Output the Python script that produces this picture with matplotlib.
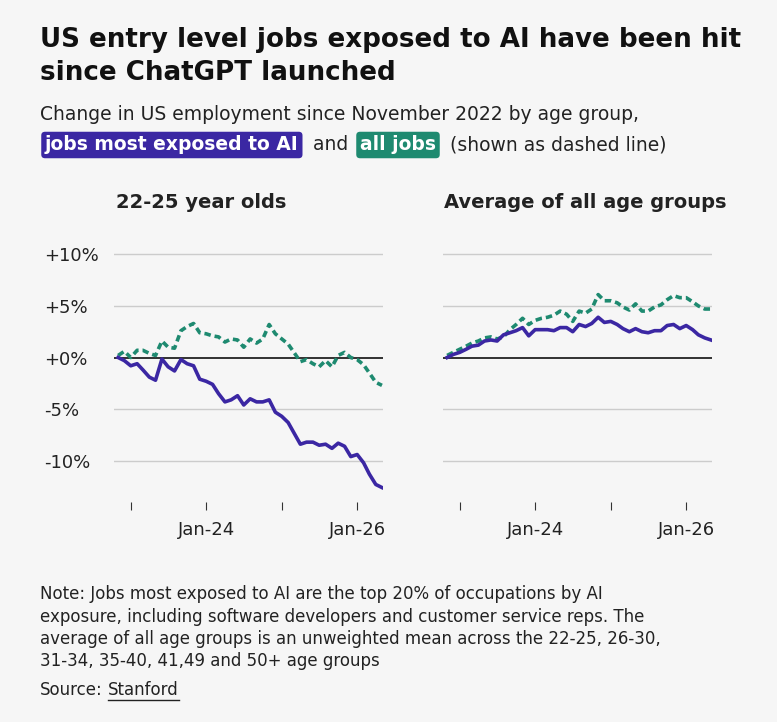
import matplotlib
matplotlib.use("Agg")
import matplotlib.pyplot as plt
import pandas as pd
import numpy as np

dates = pd.date_range("2022-11-01", periods=43, freq="MS")
young_ai = [0,-0.3,-0.8,-0.6,-1.2,-1.9,-2.2,-0.15,-0.9,-1.3,-0.2,-0.6,-0.8,-2.1,-2.3,-2.6,-3.5,-4.3,-4.1,-3.7,
            -4.6,-4.0,-4.3,-4.3,-4.1,-5.3,-5.7,-6.3,-7.3,-8.4,-8.2,-8.2,-8.5,-8.4,-8.8,-8.3,-8.6,-9.6,-9.4,-10.2,-11.3,-12.3,-12.6]
young_all = [0.2,0.6,0,0.7,0.7,0.4,0.2,1.6,1.0,0.9,2.6,3.0,3.3,2.4,2.3,2.1,2.0,1.5,1.8,1.7,1.0,1.8,1.4,1.8,3.2,
             2.3,1.8,1.3,0.5,-0.4,-0.2,-0.6,-0.9,-0.3,-0.9,0.2,0.5,0,-0.2,-0.7,-1.5,-2.4,-2.7]
avg_ai = [0,0.3,0.5,0.8,1.1,1.2,1.6,1.7,1.6,2.2,2.4,2.6,2.9,2.1,2.7,2.7,2.7,2.6,2.9,2.9,2.5,3.2,3.0,3.3,3.9,
          3.4,3.5,3.2,2.8,2.5,2.8,2.5,2.4,2.6,2.6,3.1,3.2,2.8,3.1,2.7,2.2,1.9,1.7]
avg_all = [0.2,0.5,0.8,1.1,1.4,1.6,1.9,2.0,1.8,2.0,2.7,3.2,3.8,3.2,3.6,3.8,3.9,4.1,4.5,4.2,3.5,4.5,4.3,4.7,6.1,
           5.5,5.5,5.3,4.9,4.6,5.2,4.5,4.5,4.9,5.1,5.6,6.0,5.8,5.8,5.4,5.0,4.7,4.7]
yticks = [10,5,0,-5,-10]
ytick_labels = ["+10%","+5%","+0%","-5%","-10%"]
xticks = pd.to_datetime(["2023-01-01","2024-01-01","2025-01-01","2026-01-01"])
xtick_labels = ["","Jan-24","","Jan-26"]

PURPLE = "#3b27a3"
GREEN = "#1e8a70"
BG = "#f6f6f6"
plt.rcParams['font.family'] = ['DejaVu Sans']

fig = plt.figure(figsize=(7.77,7.22), dpi=100, facecolor=BG)
W,H = 777,722
def fy(y): return 1-y/H
def fx(x): return x/W

axes = [fig.add_axes([fx(114), fy(502), fx(383)-fx(114), fy(244)-fy(502)]),
        fig.add_axes([fx(443), fy(502), fx(712)-fx(443), fy(244)-fy(502)])]
data = [(young_ai, young_all), (avg_ai, avg_all)]
for i,(ax,(ai,al)) in enumerate(zip(axes,data)):
    ax.set_facecolor(BG)
    for s in ax.spines.values(): s.set_visible(False)
    for yv in yticks:
        if yv != 0:
            ax.axhline(yv, color="#cccccc", lw=1, zorder=0)
    ax.axhline(0, color="#222222", lw=1.3, zorder=1)
    ax.plot(dates, al, color=GREEN, lw=2.6, ls=(0,(1.8,1.1)), zorder=2)
    ax.plot(dates, ai, color=PURPLE, lw=2.6, zorder=3)
    ax.set_ylim(-14, 11)
    ax.set_xlim(dates[0]-pd.Timedelta(days=20), dates[-1]+pd.Timedelta(days=5))
    ax.set_yticks(yticks)
    if i == 0:
        ax.set_yticklabels(ytick_labels, fontsize=13, color="#222222")
        ax.tick_params(axis="y", length=0, pad=50)
        for lbl in ax.get_yticklabels(): lbl.set_ha("left")
    else:
        ax.set_yticklabels([])
        ax.tick_params(axis="y", length=0)
    ax.set_xticks(xticks)
    ax.set_xticklabels(xtick_labels, fontsize=13, color="#222222")
    ax.tick_params(axis="x", length=6, color="#333333", pad=8)

fig.text(fx(444), fy(203), "Average of all age groups", fontsize=14, fontweight="bold", color="#222222", va="center")
fig.text(fx(116), fy(203), "22-25 year olds", fontsize=14, fontweight="bold", color="#222222", va="center")

fig.text(fx(40), fy(40), "US entry level jobs exposed to AI have been hit", fontsize=18.8, fontweight="bold", color="#111111", va="center")
fig.text(fx(40), fy(73), "since ChatGPT launched", fontsize=18.8, fontweight="bold", color="#111111", va="center")
fig.text(fx(40), fy(115), "Change in US employment since November 2022 by age group,", fontsize=13.5, color="#222222", va="center")

fig.canvas.draw()
r = fig.canvas.get_renderer()
x = 45
parts = [("jobs most exposed to AI", PURPLE), (" and ", None), ("all jobs", GREEN), (" (shown as dashed line)", None)]
for txt, col in parts:
    if col:
        t = fig.text(fx(x), fy(145), txt, fontsize=13.5, fontweight="bold", color="white", va="center",
                     bbox=dict(boxstyle="round,pad=0.2", fc=col, ec="none"))
    else:
        t = fig.text(fx(x), fy(145), txt, fontsize=13.5, color="#222222", va="center")
    bb = t.get_window_extent(r)
    x = bb.x1 + (8 if col else 6)

notes = ["Note: Jobs most exposed to AI are the top 20% of occupations by AI",
         "exposure, including software developers and customer service reps. The",
         "average of all age groups is an unweighted mean across the 22-25, 26-30,",
         "31-34, 35-40, 41,49 and 50+ age groups"]
for k,n in enumerate(notes):
    fig.text(fx(40), fy(594+k*22.5), n, fontsize=12, color="#222222", va="center")
src = fig.text(fx(40), fy(690), "Source:", fontsize=12, color="#222222", va="center")
fig.canvas.draw()
b0 = src.get_window_extent(fig.canvas.get_renderer())
s = fig.text((b0.x1+5)/W, fy(690), "Stanford", fontsize=12, color="#222222", va="center")
fig.canvas.draw()
bb = s.get_window_extent(fig.canvas.get_renderer())
fig.add_artist(plt.Line2D([bb.x0/W, bb.x1/W], [fy(700), fy(700)], transform=fig.transFigure, color="#222222", lw=1))

fig.savefig("out.png", dpi=100, facecolor=BG)
